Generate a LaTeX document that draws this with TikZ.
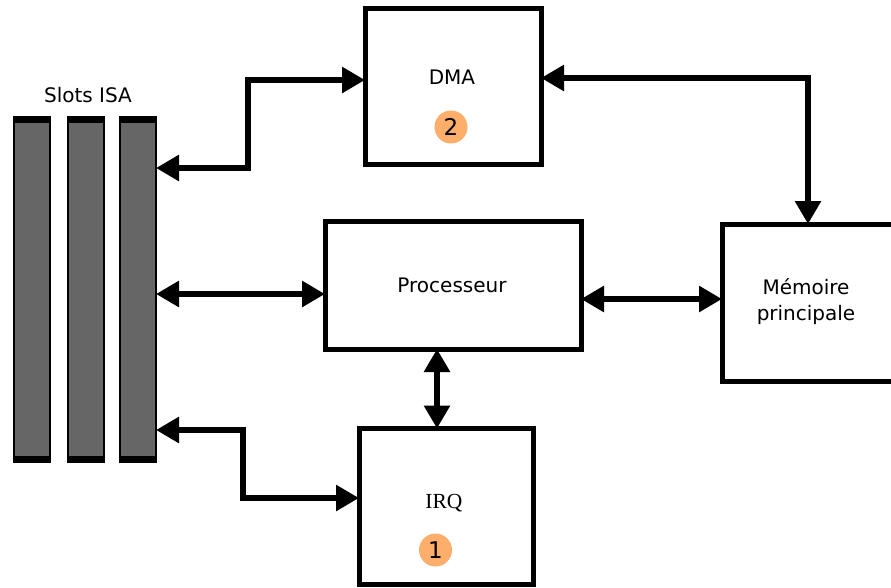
\documentclass[tikz,border=0pt]{standalone}
\usepackage{fontspec}
\setmainfont{DejaVu Sans}
\newfontfamily\irqfont{Liberation Serif}
\usetikzlibrary{arrows.meta}
\definecolor{slotgray}{HTML}{666666}
\definecolor{badge}{HTML}{FDAE6B}
\tikzset{
  unit/.style={draw=black, line width=5pt, fill=white, inner sep=0pt, outer sep=0pt},
  link/.style={line width=6pt, {Triangle[length=23pt,width=25pt]}-{Triangle[length=23pt,width=25pt]}},
  slotbar/.style={draw=black, line width=1.2pt, fill=slotgray, minimum width=36pt, minimum height=345pt, inner sep=0pt, outer sep=0pt},
  badgemark/.style={circle, fill=badge, minimum size=33pt, inner sep=0pt, font=\fontsize{23}{24}\selectfont},
  lbl/.style={font=\fontsize{20}{26}\selectfont, align=center}
}
\begin{document}
\begin{tikzpicture}[x=1pt,y=-1pt]
\useasboundingbox (0,0) rectangle (891,587);

% ISA slots
\foreach \n/\x in {1/32,2/86,3/138} {
  \node[slotbar] (slot\n) at (\x,289.5) {};
  \fill[black] (slot\n.north west) rectangle ([yshift=-6pt]slot\n.north east);
  \fill[black] (slot\n.south west) rectangle ([yshift=6pt]slot\n.south east);
}
\node[lbl] (slotlbl) at (88,95) {Slots ISA};

% functional units
\node[unit, minimum width=176pt, minimum height=156pt] (dma) at (453,86.5) {};
\node[lbl] (dmalbl) at (452,77) {DMA};
\node[badgemark] (b2) at (451,127) {2};

\node[unit, minimum width=256pt, minimum height=128pt] (proc) at (453,285) {};
\node[lbl] (proclbl) at (452,285) {Processeur};

\node[unit, minimum width=174pt, minimum height=156pt] (irq) at (446,506.5) {};
\node[font=\irqfont\fontsize{21.5}{24}\selectfont] (irqlbl) at (444,503) {IRQ};
\node[badgemark] (b1) at (435.5,550) {1};

\node[unit, minimum width=178pt, minimum height=157pt] (mem) at (811,302.5) {};
\node[lbl] (memlbl) at (806,302) {Mémoire\\principale};

% bends of the connectors
\coordinate (d1) at (248,168);
\coordinate (d2) at (248,80);
\coordinate (pl) at (0,294);
\coordinate (i1) at (243,430);
\coordinate (i2) at (243,498);
\coordinate (pm) at (0,299);
\coordinate (pi) at (437,0);
\coordinate (m1) at (808,78);

% buses
\draw[link] (slot3.east |- d1) -- (d1) -- (d2) -- (d2 -| dma.west);
\draw[link] (slot3.east |- pl) -- (pl -| proc.west);
\draw[link] (slot3.east |- i1) -- (i1) -- (i2) -- (i2 -| irq.west);
\draw[link] (proc.east |- pm) -- (pm -| mem.west);
\draw[link] (pi |- proc.south) -- (pi |- irq.north);
\draw[link] (m1 -| dma.east) -- (m1) -- (m1 |- mem.north);
\end{tikzpicture}
\end{document}
